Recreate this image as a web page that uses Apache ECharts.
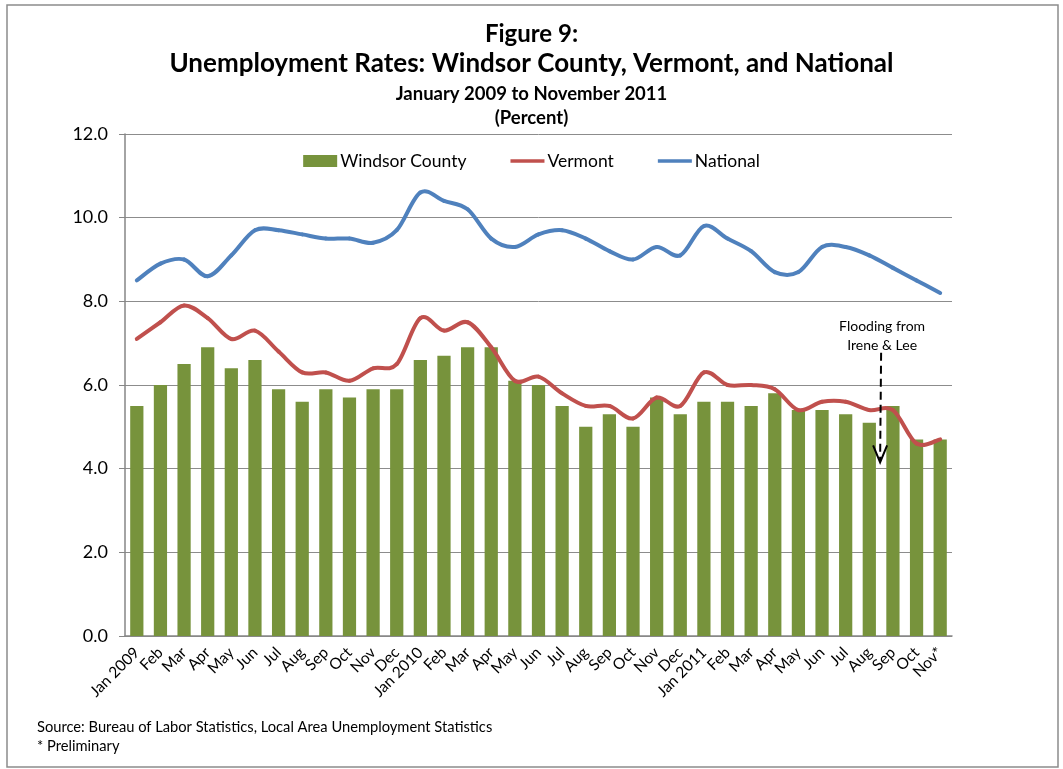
<!DOCTYPE html>
<html>
<head>
<meta charset="utf-8">
<script src="https://cdn.jsdelivr.net/npm/echarts@6/dist/echarts.min.js"></script>
<style>
  html, body { margin: 0; padding: 0; background: #ffffff; }
  #chart { width: 1063px; height: 769px; }
</style>
</head>
<body>
<div id="chart"></div>
<script>
// Monthly labels, January 2009 through November 2011
const months = [
  'Jan 2009','Feb','Mar','Apr','May','Jun','Jul','Aug','Sep','Oct','Nov','Dec',
  'Jan 2010','Feb','Mar','Apr','May','Jun','Jul','Aug','Sep','Oct','Nov','Dec',
  'Jan 2011','Feb','Mar','Apr','May','Jun','Jul','Aug','Sep','Oct','Nov*'
];

// Unemployment rates, percent (not seasonally adjusted)
const windsorCounty = [
  5.5, 6.0, 6.5, 6.9, 6.4, 6.6, 5.9, 5.6, 5.9, 5.7, 5.9, 5.9,
  6.6, 6.7, 6.9, 6.9, 6.1, 6.0, 5.5, 5.0, 5.3, 5.0, 5.7, 5.3,
  5.6, 5.6, 5.5, 5.8, 5.4, 5.4, 5.3, 5.1, 5.5, 4.7, 4.7
];
const vermont = [
  7.1, 7.5, 7.9, 7.6, 7.1, 7.3, 6.8, 6.3, 6.3, 6.1, 6.4, 6.5,
  7.6, 7.3, 7.5, 6.9, 6.1, 6.2, 5.8, 5.5, 5.5, 5.2, 5.7, 5.5,
  6.3, 6.0, 6.0, 5.9, 5.4, 5.6, 5.6, 5.4, 5.4, 4.6, 4.7
];
const national = [
  8.5, 8.9, 9.0, 8.6, 9.1, 9.7, 9.7, 9.6, 9.5, 9.5, 9.4, 9.7,
  10.6, 10.4, 10.2, 9.5, 9.3, 9.6, 9.7, 9.5, 9.2, 9.0, 9.3, 9.1,
  9.8, 9.5, 9.2, 8.7, 8.7, 9.3, 9.3, 9.1, 8.8, 8.5, 8.2
];

const yTicks = { min: 0, max: 12, interval: 2 };

const FONT = 'Lato';
const chart = echarts.init(document.getElementById('chart'), null, { renderer: 'canvas' });

// Smoothed line drawn segment by segment (cardinal spline through every point)
function smoothLineSeries(name, values, color) {
  return {
    name: name,
    type: 'custom',
    data: values.map((v, i) => [i, v]),
    encode: { x: 0, y: 1 },
    itemStyle: { color: color },
    z: 3,
    renderItem: function (params, api) {
      const i = params.dataIndex;
      if (i === 0) return null;
      const n = values.length;
      const pt = k => api.coord([k, values[Math.max(0, Math.min(n - 1, k))]]);
      const p0 = pt(i - 2 < 0 ? i - 1 : i - 2);
      const p1 = pt(i - 1);
      const p2 = pt(i);
      const p3 = pt(i + 1 > n - 1 ? i : i + 1);
      const t = 1 / 6;
      return {
        type: 'bezierCurve',
        shape: {
          x1: p1[0], y1: p1[1],
          cpx1: p1[0] + (p2[0] - p0[0]) * t, cpy1: p1[1] + (p2[1] - p0[1]) * t,
          cpx2: p2[0] - (p3[0] - p1[0]) * t, cpy2: p2[1] - (p3[1] - p1[1]) * t,
          x2: p2[0], y2: p2[1]
        },
        style: { stroke: color, lineWidth: 4, fill: null, lineCap: 'round' },
        silent: true
      };
    }
  };
}

const lineIcon = 'path://M0,0H34V3.5H0Z';

const option = {
  backgroundColor: '#ffffff',
  animation: false,
  textStyle: { fontFamily: FONT },
  title: [
    { text: 'Figure 9:', left: 'center', top: 17,
      textStyle: { fontFamily: FONT, fontSize: 24, fontWeight: 'bold', color: '#000' } },
    { text: 'Unemployment Rates: Windsor County, Vermont, and National', left: 'center', top: 46,
      textStyle: { fontFamily: FONT, fontSize: 26, fontWeight: 'bold', color: '#000' } },
    { text: 'January 2009 to November 2011', left: 'center', top: 80,
      textStyle: { fontFamily: FONT, fontSize: 18.5, fontWeight: 'bold', color: '#000' } },
    { text: '(Percent)', left: 'center', top: 104,
      textStyle: { fontFamily: FONT, fontSize: 18.5, fontWeight: 'bold', color: '#000' } },
    { text: 'Source: Bureau of Labor Statistics, Local Area Unemployment Statistics', left: 32, top: 715,
      textStyle: { fontFamily: FONT, fontSize: 14.7, fontWeight: 'normal', color: '#000' } },
    { text: '* Preliminary', left: 32, top: 734,
      textStyle: { fontFamily: FONT, fontSize: 14.7, fontWeight: 'normal', color: '#000' } }
  ],
  legend: {
    top: 147,
    left: 'center',
    itemGap: 44,
    itemWidth: 34,
    itemHeight: 12,
    textStyle: { fontFamily: FONT, fontSize: 17.5, color: '#000', padding: [0, 0, 0, -2] },
    data: [
      { name: 'Windsor County', icon: 'rect' },
      { name: 'Vermont', icon: lineIcon },
      { name: 'National', icon: lineIcon }
    ]
  },
  grid: { left: 125, right: 111, top: 134, bottom: 133, containLabel: false },
  xAxis: {
    type: 'category',
    data: months,
    boundaryGap: true,
    axisLine: { lineStyle: { color: '#868686', width: 1.5 } },
    axisTick: { show: false },
    axisLabel: {
      rotate: 45,
      interval: 0,
      margin: 14,
      fontFamily: FONT,
      fontSize: 15.5,
      color: '#000'
    }
  },
  yAxis: {
    type: 'value',
    min: yTicks.min,
    max: yTicks.max,
    interval: yTicks.interval,
    axisLine: { show: true, lineStyle: { color: '#868686', width: 1.5 } },
    axisTick: { show: true, inside: false, length: 6, lineStyle: { color: '#868686' } },
    splitLine: { lineStyle: { color: '#8c8c8c', width: 1 } },
    axisLabel: {
      formatter: v => v.toFixed(1),
      margin: 17,
      fontFamily: FONT,
      fontSize: 18,
      color: '#000'
    }
  },
  series: [
    {
      name: 'Windsor County',
      type: 'bar',
      data: windsorCounty,
      barCategoryGap: '44%',
      itemStyle: { color: '#77933C' },
      z: 1
    },
    smoothLineSeries('Vermont', vermont, '#C0504D'),
    smoothLineSeries('National', national, '#4F81BD')
  ]
};

chart.setOption(option);

// Outer frame and the flood annotation, placed with the chart's own scales
function drawOverlay() {
  const xAug = chart.convertToPixel({ xAxisIndex: 0 }, 31);
  const xSep = chart.convertToPixel({ xAxisIndex: 0 }, 32);
  const ax = (xAug + xSep) / 2;
  const yTop = chart.convertToPixel({ yAxisIndex: 0 }, 6.77);
  const yTip = chart.convertToPixel({ yAxisIndex: 0 }, 4.15);
  const yText = chart.convertToPixel({ yAxisIndex: 0 }, 7.16);
  chart.setOption({
    graphic: [
      {
        type: 'rect', silent: true, z: -1,
        shape: { x: 7, y: 5, width: 1051, height: 762 },
        style: { fill: null, stroke: '#8c8c8c', lineWidth: 1.5 }
      },
      {
        type: 'text', silent: true, z: 10,
        x: ax + 1, y: yText,
        style: {
          text: 'Flooding from\nIrene & Lee',
          fontFamily: FONT, fontSize: 14, lineHeight: 19,
          fill: '#000', align: 'center', verticalAlign: 'middle'
        }
      },
      {
        type: 'line', silent: true, z: 10,
        shape: { x1: ax, y1: yTop, x2: ax - 1, y2: yTip - 2 },
        style: { stroke: '#000', lineWidth: 2, lineDash: [8, 5] }
      },
      {
        type: 'polyline', silent: true, z: 10,
        shape: { points: [[ax - 8, yTip - 17], [ax - 1, yTip], [ax + 6, yTip - 17]] },
        style: { stroke: '#000', lineWidth: 2, fill: null }
      }
    ]
  });
}
drawOverlay();
</script>
</body>
</html>
